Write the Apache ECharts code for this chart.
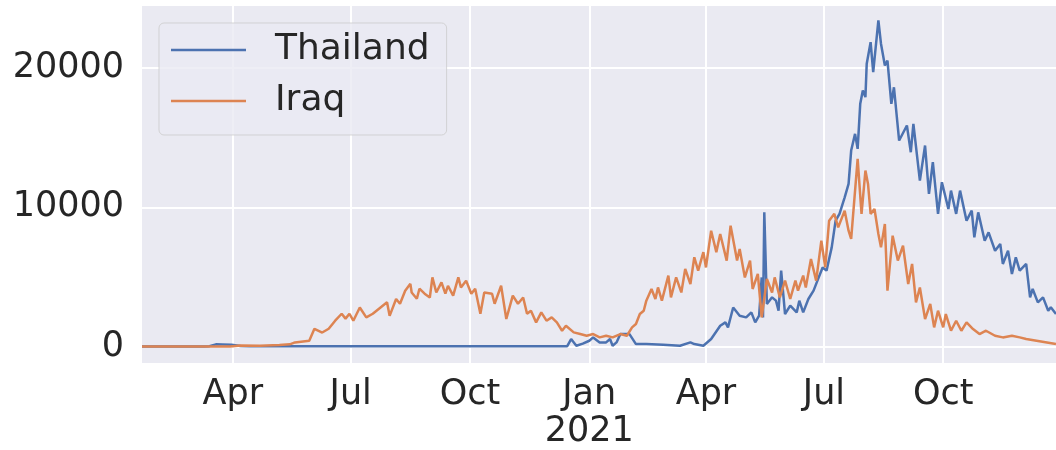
<!DOCTYPE html>
<html>
<head>
<meta charset="utf-8">
<script src="https://cdn.jsdelivr.net/npm/echarts@6/dist/echarts.min.js"></script>
<style>
  html, body { margin: 0; padding: 0; background: #ffffff; }
  #chart { width: 1056px; height: 450px; }
</style>
</head>
<body>
<div id="chart"></div>
<script>
// days counted from the first date of the series, 2020-01-22
var startDate = [2020, 0, 22]
var lastDay = 705

var thailandDays = [0, 48, 52, 57, 62, 69, 76, 83, 199, 322, 328, 331, 335, 340, 345, 348, 353, 358, 361, 363,
  366, 369, 376, 381, 389, 402, 415, 423, 426, 433, 439, 446, 450, 452, 456, 461, 466, 470, 473, 476,
  478, 479, 480, 482, 486, 489, 491, 493, 496, 500, 505, 507, 510, 514, 518, 521, 525, 528, 532, 535,
  538, 542, 545, 547, 550, 552, 554, 556, 558, 559, 562, 564, 568, 570, 573, 575, 578, 580, 584, 590,
  593, 595, 600, 604, 607, 610, 614, 617, 622, 624, 628, 631, 636, 640, 642, 645, 650, 653, 658, 662,
  664, 668, 671, 674, 677, 682, 685, 687, 691, 695, 699, 701, 705]
var thailandCases = [0, 0, 20, 150, 140, 120, 40, 10, 10, 10, 20, 530, 50, 200, 410, 650, 290, 290, 530, 50,
  290, 890, 890, 170, 170, 120, 50, 290, 170, 50, 530, 1490, 1730, 1370, 2800, 2210, 2090, 2450, 1730, 2210,
  4960, 2090, 9640, 3050, 3530, 3290, 2570, 5450, 2330, 2930, 2450, 3290, 2450, 3410, 4010, 4730, 5680, 5450, 7120, 9040,
  9530, 10720, 11680, 14080, 15280, 14200, 17440, 18400, 17920, 20320, 21870, 19710, 23430, 21760, 20190, 20550, 17440, 18630, 14800, 15880,
  13960, 16000, 11920, 14440, 10960, 13240, 9530, 11800, 9880, 11200, 9530, 11200, 9040, 9760, 7840, 9640, 7600, 8200, 6880, 7370,
  5930, 6880, 5210, 6400, 5450, 5930, 3530, 4130, 3170, 3530, 2570, 2810, 2330]

var iraqDays = [0, 68, 76, 91, 106, 114, 118, 129, 133, 139, 144, 149, 154, 157, 160, 163, 168, 173, 178, 184,
  189, 191, 196, 199, 203, 207, 208, 212, 214, 218, 222, 224, 227, 231, 234, 236, 240, 244, 246, 250,
  254, 257, 261, 264, 270, 272, 277, 281, 286, 290, 294, 297, 300, 304, 308, 312, 316, 320, 324, 327,
  333, 338, 343, 348, 353, 358, 363, 369, 374, 378, 381, 384, 387, 389, 393, 396, 398, 401, 406, 408,
  412, 416, 419, 423, 426, 429, 433, 435, 439, 443, 446, 451, 454, 459, 461, 465, 469, 471, 475, 478,
  482, 486, 488, 492, 496, 500, 504, 506, 510, 512, 516, 520, 524, 527, 530, 534, 537, 542, 545, 547,
  552, 555, 558, 560, 562, 565, 568, 570, 573, 575, 579, 583, 587, 591, 594, 597, 600, 604, 608, 611,
  614, 618, 620, 624, 628, 632, 636, 641, 646, 651, 658, 664, 671, 677, 682, 690, 698, 705]
var iraqCases = [0, 0, 60, 50, 100, 150, 290, 410, 1270, 1000, 1270, 1850, 2350, 2000, 2350, 1850, 2800, 2090, 2350, 2800,
  3170, 2200, 3410, 3070, 4000, 4500, 3880, 3430, 4150, 3790, 3520, 4960, 3880, 4600, 3790, 4360, 3650, 4960, 4240, 4730,
  3790, 4150, 2350, 3880, 3790, 3070, 4360, 1970, 3650, 3070, 3520, 2350, 2570, 1730, 2450, 1850, 2090, 1730, 1130, 1490,
  1010, 890, 770, 890, 650, 770, 650, 890, 770, 1370, 1610, 2330, 2570, 3290, 4130, 3410, 4240, 3290, 5090, 3530,
  4960, 3880, 5570, 4490, 6410, 5450, 6780, 5680, 8320, 6780, 8080, 6170, 8680, 6170, 7010, 4960, 6170, 4130, 5210, 2090,
  4850, 3880, 4960, 3530, 4730, 3410, 4730, 4010, 5090, 4240, 6290, 4730, 7600, 5680, 9040, 9530, 8560, 9760, 8320, 7730,
  13480, 9530, 12640, 11680, 9530, 9880, 8080, 7120, 8800, 4010, 7960, 6170, 7240, 4490, 5930, 3170, 4240, 1970, 3050, 1370,
  2570, 1370, 2330, 1130, 1850, 1130, 1730, 1250, 890, 1130, 770, 650, 770, 650, 530, 410, 290, 170]

var xTickDates = [[2020, 3, 1], [2020, 6, 1], [2020, 9, 1], [2021, 0, 1], [2021, 3, 1], [2021, 6, 1], [2021, 9, 1]]
var yTicks = [0, 10000, 20000]
var monthNames = ['Jan', 'Feb', 'Mar', 'Apr', 'May', 'Jun', 'Jul', 'Aug', 'Sep', 'Oct', 'Nov', 'Dec']

var DAY = 24 * 3600 * 1000
var start = Date.UTC(startDate[0], startDate[1], startDate[2])
function dateToDay(t) {
  return Math.round((Date.UTC(t[0], t[1], t[2]) - start) / DAY)
}
function pairs(days, values) {
  return days.map(function(d, i) { return [d, values[i]] })
}
var xTicks = xTickDates.map(dateToDay)

var textColor = '#262626'
var font = 'DejaVu Sans'

var chart = echarts.init(document.getElementById('chart'), null, { renderer: 'canvas' })
var option = {
  animation: false,
  color: ['#4C72B0', '#DD8452'],
  grid: {
    left: 142,
    right: 0,
    top: 6,
    bottom: 87,
    show: true,
    backgroundColor: '#EAEAF2',
    borderWidth: 0
  },
  legend: {
    orient: 'vertical',
    left: 159,
    top: 23,
    padding: [9, 17, 16, 12],
    icon: 'rect',
    itemWidth: 75,
    itemHeight: 2.5,
    itemGap: 15,
    backgroundColor: 'rgba(234,234,242,0.8)',
    borderColor: 'rgba(204,204,204,0.8)',
    borderWidth: 1,
    borderRadius: 5,
    textStyle: {
      color: textColor,
      fontFamily: font,
      fontSize: 36,
      lineHeight: 36,
      padding: [0, 0, 0, 24]
    },
    data: ['Thailand', 'Iraq']
  },
  xAxis: {
    type: 'value',
    min: 0,
    max: lastDay,
    axisLine: { show: false },
    axisTick: { show: false, customValues: xTicks },
    axisLabel: {
      customValues: xTicks,
      color: textColor,
      fontFamily: font,
      fontSize: 35,
      lineHeight: 37,
      margin: 13,
      formatter: function(value) {
        var d = new Date(start + value * DAY)
        var m = monthNames[d.getUTCMonth()]
        return d.getUTCMonth() === 0 ? m + '\n' + d.getUTCFullYear() : m
      }
    },
    splitLine: { show: true, lineStyle: { color: '#ffffff', width: 2 } }
  },
  yAxis: {
    type: 'value',
    min: -1190,
    max: 24470,
    axisLine: { show: false },
    axisTick: { show: false, customValues: yTicks },
    axisLabel: {
      customValues: yTicks,
      color: textColor,
      fontFamily: font,
      fontSize: 35,
      margin: 18,
      formatter: function(value) { return String(value) }
    },
    splitLine: { show: true, lineStyle: { color: '#ffffff', width: 2 } }
  },
  series: [
    {
      name: 'Thailand',
      type: 'line',
      symbol: 'none',
      lineStyle: { width: 2.5 },
      data: pairs(thailandDays, thailandCases)
    },
    {
      name: 'Iraq',
      type: 'line',
      symbol: 'none',
      lineStyle: { width: 2.5 },
      data: pairs(iraqDays, iraqCases)
    }
  ]
}
chart.setOption(option)
</script>
</body>
</html>
